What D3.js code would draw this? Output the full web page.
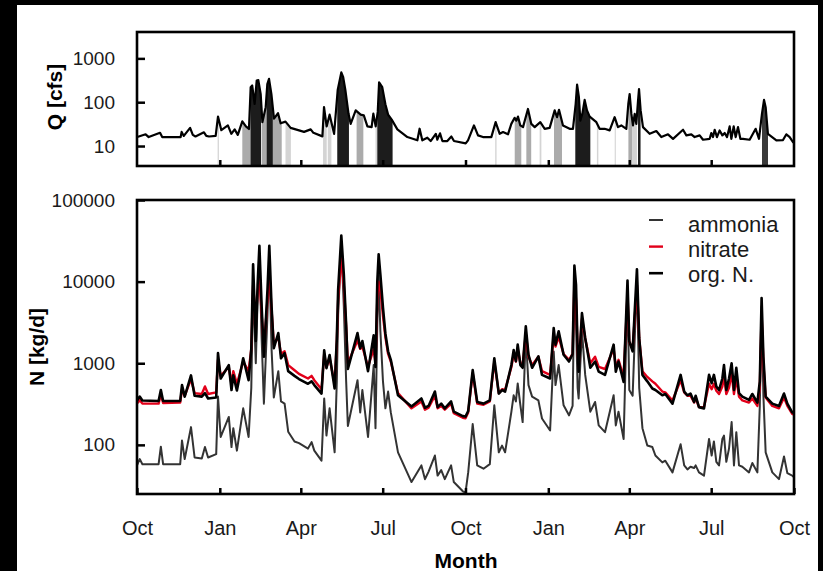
<!DOCTYPE html>
<html>
<head>
<meta charset="utf-8">
<script src="https://cdn.jsdelivr.net/npm/d3@7"></script>
<style>
  body { margin: 0; background: #000; }
  svg { display: block; }
  text { font-family: "Liberation Sans", Arial, sans-serif; }
</style>
</head>
<body>
<div id="chart"></div>
<script>
// axis ticks (days since 1 Oct of the first water year)
const monthTicks = [0, 92, 182, 273, 365, 457, 547, 638, 730];
const monthLabels = ["Oct", "Jan", "Apr", "Jul", "Oct", "Jan", "Apr", "Jul", "Oct"];
const qTicks = [10, 100, 1000];
const nTicks = [100, 1000, 10000, 100000];

// discharge [day, cfs]
const discharge = [
  [0, 16], [2, 16.5], [9.6, 18.5], [13, 16], [25.6, 20], [28, 16], [48.5, 16], [49.6, 21], [52, 17], [59, 26],
  [62, 18], [65, 16.5], [74.4, 20.5], [77, 17], [80, 16.5], [87.4, 17], [90, 47], [93.7, 23], [101, 29.5],
  [104.8, 19], [108.5, 24], [112, 18], [117, 36.5], [121, 28], [124.4, 24.5], [126.3, 220], [128, 240],
  [130.7, 91], [133, 313], [134.8, 320], [137.4, 155], [139.3, 35], [143, 77], [144.8, 260], [146.7, 340],
  [149.3, 155], [152.2, 42], [156.7, 56], [159.6, 33], [165, 36], [170.7, 26], [185.6, 21], [193, 24], [196, 20],
  [206, 16.6], [207.8, 77], [210.7, 28], [214, 52], [219, 19], [223, 190], [227, 480], [229, 380], [231.5, 190],
  [235, 55], [237.4, 32], [243, 65], [248.5, 52], [252, 50], [256, 28], [260.7, 27], [262.6, 55], [265.2, 28],
  [267.5, 60], [269, 285], [272.5, 220], [276, 90], [279, 52], [283, 40], [289.3, 24], [300.4, 16], [311.5, 13.5],
  [314, 24.8], [317, 13.5], [322.6, 15.5], [326.3, 13], [332, 19], [333.7, 14], [336.7, 19.5], [339.3, 13],
  [344.8, 13], [349.3, 16.5], [352.2, 13], [365.2, 11.5],
  [367.8, 13.5], [374.4, 29.5], [378.9, 17.5], [384.4, 16], [393.7, 16], [398.5, 35], [403, 19], [406.7, 20.8],
  [412.2, 18.5], [415.9, 32], [419.6, 44], [421.5, 38], [423.3, 47], [425.9, 29.5], [428.9, 27], [434.4, 70],
  [438.1, 32], [441.9, 27], [448.1, 35], [453, 24.7], [458.5, 26], [464.1, 65], [466.7, 45.5], [468.9, 67],
  [473.3, 29.5], [480.7, 24.7], [484.4, 24.7], [487.4, 91], [489, 253], [491, 130], [492.6, 38], [494.8, 54],
  [497.4, 113], [500, 65], [503, 47], [510.4, 35], [514, 24.7], [519.6, 24.7], [525.2, 22.7], [530.7, 45.5],
  [534.4, 27], [538.1, 29.5], [543.7, 24.7], [545.9, 91], [547.4, 154], [549.3, 54], [551.1, 29.5], [553, 54],
  [554.8, 32], [556.7, 108], [557.8, 200], [559.6, 65], [562.2, 27], [569.6, 19], [577, 22], [582.6, 16],
  [590, 18.5], [595.6, 14.6], [606.7, 23.5], [610.4, 17.5], [615.9, 18.5], [619.6, 16], [625.2, 17.5],
  [628.9, 13.9], [636.3, 14.6], [638.1, 19.8], [640, 16], [641.9, 23.5], [644.4, 16], [647.4, 22.7], [650.4, 17.5],
  [653, 19.8], [655.6, 16], [658.5, 28], [660.4, 14.6], [663, 28], [665.2, 16], [667.8, 27], [670.4, 14.6],
  [673.3, 14.6], [680.7, 13.9], [687.4, 24.7], [691.1, 14.6], [694.4, 54], [696.7, 113], [698.5, 77], [701, 19],
  [710.4, 13.5], [717.8, 13.7], [721.5, 18.5], [725.2, 16], [728.9, 12.3], [730, 12.5]
];

// sampled storm periods shaded under the hydrograph
const eventStart = [89.6, 117, 126, 138.5, 144, 151, 165, 206.7, 212, 222.5, 244, 265, 267, 398, 419.7, 432.6,
  447.4, 463.3, 487, 511, 530.8, 546, 550.5, 556.7, 694.4];
const eventEnd = [91, 125.6, 137.8, 144, 151, 160.8, 171, 210.8, 216, 235.5, 251.5, 267, 284, 399.5, 427, 438,
  449.3, 472.2, 503.7, 512.6, 532, 550.5, 555.5, 559.5, 701];
const eventType = ["minor", "mid", "major", "mid", "major", "mid", "minor", "minor", "minor", "major", "mid",
  "minor", "major", "minor", "mid", "mid", "minor", "mid", "major", "minor", "minor", "mid", "minor", "major", "dark"];

// nitrogen loads [kg/d]
const nDays = [0, 3, 6, 24, 26.5, 29, 48, 50, 53, 60, 64, 72, 75.5, 79, 88, 90, 93, 102, 105, 107, 111, 118,
  124, 127, 129, 132, 134, 136, 138.5, 141, 145, 147, 149.5, 152, 157, 160, 164, 168, 175, 180, 190, 194, 197,
  205, 208, 210.5, 214, 219.6, 222, 223.5, 227, 229.8, 232.4, 234.3, 245, 248, 250.4, 256.7, 263, 265, 267,
  268.5, 270.4, 273.3, 276, 279, 282, 290, 305, 316, 320, 324, 331, 334, 338, 342, 349, 352, 362, 365,
  368, 373, 378, 385, 392, 397, 402, 405.6, 409, 416, 418.5, 421, 423, 426, 428.5, 432, 435, 439, 446, 450,
  459, 463, 465, 468.5, 474, 480, 484, 486, 487.8, 489.6, 490.7, 494.4, 498, 503.7, 509, 513, 520, 529.6,
  532, 535, 540.7, 545, 547, 550.7, 555.5, 558, 561.6, 567, 572.6, 576, 583.7, 587, 595, 604, 608, 611.6,
  615, 619, 620.7, 624.4, 630, 635.6, 638.5, 641, 643.7, 646.7, 650.4, 652.2, 654.8, 657.8, 660.7, 663.3,
  665.9, 668.9, 672.6, 680, 683.7, 689.3, 692, 694, 696, 698.5, 705.9, 713.3, 718.9, 722.6, 728, 730];
const orgN = [350, 390, 350, 345, 470, 345, 345, 540, 390, 710, 400, 390, 430, 370, 380, 1330, 650, 950, 470, 710, 465, 1150,
  620, 1500, 16300, 1870, 9000, 27500, 5000, 1200, 8000, 27500, 5000, 1530, 2340, 1150, 1330, 800, 700, 640, 560, 600, 540,
  425, 1440, 870, 1260, 490, 2000, 8000, 36600, 12300, 2960, 850, 2340, 1530, 1870, 800, 2200, 900, 10000,
  21600, 12300, 4800, 2300, 1400, 1100, 405, 295, 370, 285, 300, 450, 290, 320, 280, 340, 255, 225, 222,
  260, 825, 335, 320, 350, 1150, 425, 470, 450, 950, 1450, 1060, 1690, 950, 880, 2830, 1270, 880, 1210, 720,
  650, 2690, 1690, 2460, 1270, 1050, 1300, 15700, 9100, 1450, 790, 4120, 2040, 880, 1050, 790, 720, 1690,
  790, 1050, 590, 10300, 1860, 1400, 14200, 2040, 720, 600, 490, 470, 405, 420, 320, 720, 450, 405,
  425, 335, 400, 290, 280, 720, 570, 720, 520, 470, 650, 950, 470, 650, 1000, 470,
  880, 430, 390, 355, 420, 330, 600, 6300, 1200, 390, 320, 300, 425, 320, 250, 250];
const nitrate = [320, 355, 320, 320, 420, 325, 330, 480, 400, 640, 430, 420, 520, 420, 440, 1100, 700, 900, 560, 800, 560, 1050,
  800, 1500, 9000, 3600, 7000, 12000, 4000, 1500, 6000, 13000, 4500, 1700, 2100, 1300, 1400, 950, 820, 740, 650, 700, 620,
  480, 1300, 900, 1150, 560, 1800, 6000, 20000, 9000, 2800, 1000, 1900, 1500, 1600, 900, 1500, 1000, 6000,
  10000, 8000, 3800, 2100, 1300, 1050, 430, 280, 340, 270, 285, 400, 280, 300, 270, 320, 245, 215, 212,
  250, 760, 320, 310, 340, 1050, 430, 480, 470, 900, 1300, 1050, 1500, 1000, 950, 2300, 1200, 950, 1200, 800,
  720, 2200, 1600, 2100, 1300, 1100, 1300, 10000, 6000, 1400, 900, 3500, 2000, 1000, 1200, 900, 850, 1500,
  900, 1100, 680, 7000, 1800, 1500, 9000, 2000, 800, 680, 600, 560, 450, 440, 350, 620, 440, 400,
  400, 330, 380, 290, 290, 560, 480, 560, 460, 420, 520, 700, 420, 500, 750, 420,
  650, 390, 350, 330, 370, 300, 500, 4000, 1000, 380, 300, 280, 380, 300, 240, 235];
const ammonia = [56, 67, 58, 58, 95, 58, 58, 113, 67, 165, 70, 68, 94, 70, 77, 390, 125, 220, 94, 160, 85, 280,
  125, 500, 9000, 1000, 6000, 20000, 2000, 320, 4000, 20000, 1500, 380, 800, 340, 320, 145, 110, 105, 90, 108, 85,
  64, 370, 130, 280, 81, 600, 4000, 28000, 5000, 600, 170, 620, 250, 470, 125, 950, 160, 3000,
  12000, 2500, 600, 280, 450, 250, 81, 35, 56, 38, 47, 74, 42, 49, 38, 56, 35, 27, 26,
  46, 180, 56, 51, 58, 305, 81, 98, 81, 255, 405, 340, 565, 305, 190, 2230, 540, 390, 350, 210,
  150, 1390, 540, 950, 305, 230, 300, 10000, 3000, 500, 370, 2500, 720, 255, 335, 173, 143, 405,
  173, 255, 118, 8000, 470, 400, 11000, 500, 160, 98, 94, 74, 61, 64, 46, 102, 56, 50,
  54, 52, 56, 46, 42, 118, 74, 110, 62, 56, 118, 130, 62, 90, 190, 56,
  143, 56, 54, 46, 60, 46, 300, 5000, 400, 81, 46, 38, 72, 45, 42, 40];

const seriesNames = ["ammonia", "nitrate", "org. N."];

[orgN, nitrate, ammonia].forEach((a, i) => {
  if (a.length !== nDays.length) throw new Error("series " + i + " has " + a.length + " values, expected " + nDays.length);
});

const W = 823, H = 571;
const left = 137, right = 794;
const qTop = 32, qBottom = 166;
const nTop = 200, nBottom = 494;

const svg = d3.select("#chart").append("svg")
  .attr("width", W)
  .attr("height", H);

svg.append("rect").attr("width", W).attr("height", H).attr("fill", "#000");
svg.append("rect").attr("x", 17).attr("y", 5).attr("width", 801).attr("height", H - 5).attr("fill", "#fff");

const x = d3.scaleLinear().domain([0, 730]).range([left, right]);
const yQ = d3.scaleLog().domain([3.5, 4000]).range([qBottom, qTop]);
const yN = d3.scaleLog().domain([25, 100000]).range([nBottom, nTop]);

const defs = svg.append("defs");
defs.append("clipPath").attr("id", "clipQ").append("rect")
  .attr("x", left).attr("y", qTop).attr("width", right - left).attr("height", qBottom - qTop);
defs.append("clipPath").attr("id", "clipN").append("rect")
  .attr("x", left).attr("y", nTop).attr("width", right - left).attr("height", nBottom - nTop);

// ---- top panel: discharge ----
const eventColor = {major: "#1c1c1c", dark: "#3a3a3a", mid: "#ababab", minor: "#d4d4d4"};

const qArea = d3.area()
  .x(d => x(d[0]))
  .y0(qBottom)
  .y1(d => yQ(d[1]));

eventStart.forEach((s, i) => {
  const id = "ev" + i;
  defs.append("clipPath").attr("id", id).append("rect")
    .attr("x", x(s)).attr("y", qTop)
    .attr("width", Math.max(x(eventEnd[i]) - x(s), 1))
    .attr("height", qBottom - qTop);
  svg.append("path")
    .datum(discharge)
    .attr("clip-path", "url(#" + id + ")")
    .attr("fill", eventColor[eventType[i]])
    .attr("d", qArea);
});

svg.append("path")
  .datum(discharge)
  .attr("clip-path", "url(#clipQ)")
  .attr("fill", "none")
  .attr("stroke", "#000")
  .attr("stroke-width", 2.2)
  .attr("stroke-linejoin", "round")
  .attr("d", d3.line().x(d => x(d[0])).y(d => yQ(d[1])));

// ---- bottom panel: nitrogen loads ----
const series = [
  {name: seriesNames[0], values: ammonia, color: "#333", width: 2},
  {name: seriesNames[1], values: nitrate, color: "#e2001a", width: 2.4},
  {name: seriesNames[2], values: orgN, color: "#000", width: 2.6}
];

const nLine = d3.line().x(d => x(d[0])).y(d => yN(d[1]));

series.forEach(s => {
  svg.append("path")
    .datum(nDays.map((d, i) => [d, s.values[i]]))
    .attr("clip-path", "url(#clipN)")
    .attr("fill", "none")
    .attr("stroke", s.color)
    .attr("stroke-width", s.width)
    .attr("stroke-linejoin", "round")
    .attr("d", nLine);
});

// ---- axes ----
function styleAxis(g) {
  g.select(".domain").remove();
  g.selectAll(".tick line").attr("stroke", "#000").attr("stroke-width", 2.5);
  g.selectAll(".tick text").attr("fill", "#1a1a1a").style("font-size", "19px")
    .style("font-family", '"Liberation Sans", Arial, sans-serif');
}

svg.append("g")
  .attr("transform", `translate(${left},0)`)
  .call(d3.axisLeft(yQ).tickValues(qTicks).tickSize(-8).tickPadding(22).tickFormat(d3.format("d")))
  .call(styleAxis);

svg.append("g")
  .attr("transform", `translate(0,${qBottom})`)
  .call(d3.axisBottom(x).tickValues(monthTicks.slice(1, -1)).tickSize(-6).tickFormat(""))
  .call(styleAxis);

svg.append("g")
  .attr("transform", `translate(${left},0)`)
  .call(d3.axisLeft(yN).tickValues(nTicks).tickSize(-8).tickPadding(22).tickFormat(d3.format("d")))
  .call(styleAxis);

svg.append("g")
  .attr("transform", `translate(0,${nBottom})`)
  .call(d3.axisBottom(x).tickValues(monthTicks).tickSize(-6).tickPadding(27)
    .tickFormat((d, i) => monthLabels[i]))
  .call(styleAxis)
  .selectAll(".tick text").style("font-size", "20px");

// panel frames
[[qTop, qBottom], [nTop, nBottom]].forEach(([t, b]) => {
  svg.append("rect")
    .attr("x", left).attr("y", t)
    .attr("width", right - left).attr("height", b - t)
    .attr("fill", "none")
    .attr("stroke", "#000")
    .attr("stroke-width", 2.6);
});

// axis titles
svg.append("text")
  .attr("transform", "translate(62,97) rotate(-90)")
  .attr("text-anchor", "middle")
  .style("font-size", "21px").style("font-weight", "bold")
  .text("Q [cfs]");

svg.append("text")
  .attr("transform", `translate(44,${(nTop + nBottom) / 2}) rotate(-90)`)
  .attr("text-anchor", "middle")
  .style("font-size", "21px").style("font-weight", "bold")
  .text("N [kg/d]");

svg.append("text")
  .attr("x", 466).attr("y", 568)
  .attr("text-anchor", "middle")
  .style("font-size", "21px").style("font-weight", "bold")
  .text("Month");

// legend
const legend = svg.append("g").attr("transform", "translate(649,220)");
series.forEach((s, i) => {
  legend.append("line")
    .attr("x1", 0).attr("x2", 14)
    .attr("y1", i * 26.6).attr("y2", i * 26.6)
    .attr("stroke", s.color)
    .attr("stroke-width", s.width);
  legend.append("text")
    .attr("x", 39).attr("y", i * 25 + 11.5)
    .attr("fill", "#1a1a1a")
    .style("font-size", "22px")
    .text(s.name);
});
</script>
</body>
</html>
